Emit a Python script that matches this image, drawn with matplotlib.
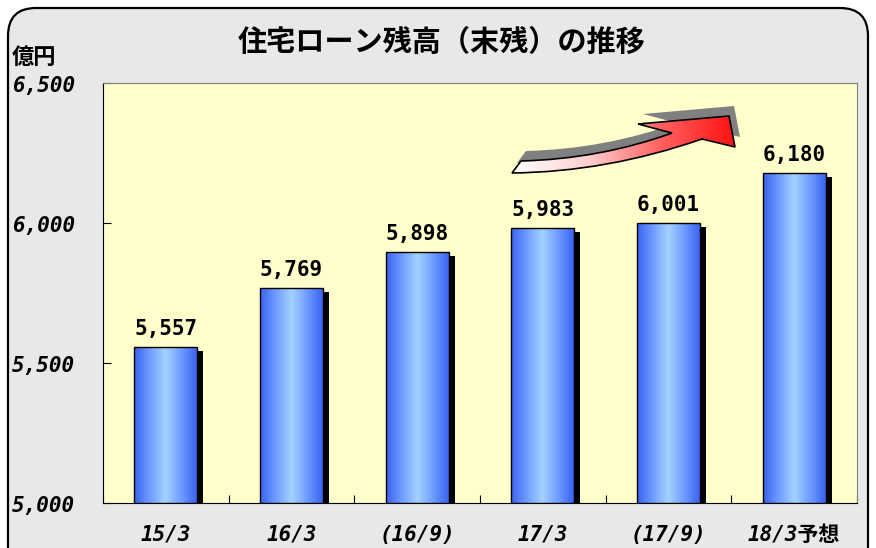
import numpy as np
import matplotlib
matplotlib.use("Agg")
import matplotlib.pyplot as plt
from matplotlib.patches import FancyBboxPatch, Rectangle, PathPatch
from matplotlib.path import Path
from matplotlib.colors import LinearSegmentedColormap
import matplotlib.transforms as mtransforms

plt.rcParams['font.family'] = ['DejaVu Sans Mono', 'Noto Sans CJK JP']

# data
categories = ["15/3", "16/3", "(16/9)", "17/3", "(17/9)", "18/3予想"]
balances = [5557, 5769, 5898, 5983, 6001, 6180]
yticks = [5000, 5500, 6000, 6500]
title = "住宅ローン残高（末残）の推移"
unit = "億円"

W, H = 876, 548
fig = plt.figure(figsize=(W / 100, H / 100), dpi=100, facecolor="white")

# background panel with rounded corners
bg = fig.add_axes([0, 0, 1, 1], zorder=0)
bg.set_xlim(0, W); bg.set_ylim(H, 0); bg.axis("off")
bg.add_patch(FancyBboxPatch((8, 8), W - 16, H + 20, boxstyle="round,pad=0,rounding_size=28",
                            facecolor="#e8e8e8", edgecolor="black", linewidth=1.6))

ax = fig.add_axes([103 / W, 45 / H, 754 / W, 420 / H], zorder=1)
ax.set_facecolor("#ffffcc")

x = np.arange(len(categories))
bw = 0.5
cmap = LinearSegmentedColormap.from_list("bar", ["#3a62f2", "#6f9cff", "#a6d2ff", "#6f9cff", "#3a62f2"])
grad = np.linspace(0, 1, 256).reshape(1, -1)

shadow_tr = ax.transData + mtransforms.ScaledTranslation(6 / 100, -4 / 100, fig.dpi_scale_trans)
for xi, v in zip(x, balances):
    ax.add_patch(Rectangle((xi - bw / 2, 5000), bw, v - 5000, facecolor="black",
                           edgecolor="none", transform=shadow_tr, zorder=2))
    im = ax.imshow(grad, cmap=cmap, aspect="auto", extent=(xi - bw / 2, xi + bw / 2, 5000, v),
                   zorder=3, interpolation="bilinear")
    rect = Rectangle((xi - bw / 2, 5000), bw, v - 5000, facecolor="none",
                     edgecolor="black", linewidth=1.0, zorder=4)
    ax.add_patch(rect)
    im.set_clip_path(rect)
    ax.annotate(f"{v:,}", (xi, v), xytext=(0, 18), textcoords="offset pixels",
                ha="center", va="center", fontsize=15, fontweight="bold", zorder=5)

ax.set_xlim(-0.5, len(categories) - 0.5)
ax.set_ylim(5000, 6500)

ax.set_yticks(yticks)
ax.set_yticklabels([])
ax.set_xticks(np.arange(len(categories) + 1) - 0.5)
ax.set_xticklabels([])
ax.tick_params(direction="in", length=6, width=0.8, color="black")

for s in ["top", "right"]:
    ax.spines[s].set_color("#808080")
for s in ["left", "bottom"]:
    ax.spines[s].set_color("black")

ylab_tr = mtransforms.blended_transform_factory(fig.transFigure, ax.transData)
for t in yticks:
    ax.annotate(f"{t:,}", (12 / W, t), xycoords=ylab_tr, xytext=(0, -3), textcoords="offset pixels",
                ha="left", va="center", fontsize=15, fontweight="bold", style="italic",
                annotation_clip=False)

xlab_tr = mtransforms.blended_transform_factory(ax.transData, fig.transFigure)
for xi, c in zip(x, categories):
    ax.text(xi, 1 - 535 / H, c, transform=xlab_tr, ha="center", va="center",
            fontsize=15, fontweight="bold", style="italic", clip_on=False)

fig.text(12 / W, 1 - 57 / H, unit, fontsize=16, fontweight="bold",
         family=["Noto Sans CJK JP"], va="center", ha="left")
fig.text(441 / W, 1 - 42 / H, title, fontsize=21, fontweight="bold",
         family=["Noto Sans CJK JP"], va="center", ha="center")

# decorative rising arrow
ov = fig.add_axes([0, 0, 1, 1], zorder=3)
ov.set_xlim(0, W); ov.set_ylim(H, 0); ov.axis("off")

def arrow_path(dx, dy):
    pts = [(512, 173), (521, 161), (600, 159), (672, 133), (638, 124), (729, 116),
           (735, 147), (702, 139), (607, 172), (512, 173), (512, 173)]
    codes = [Path.MOVETO, Path.LINETO, Path.CURVE3, Path.CURVE3, Path.LINETO, Path.LINETO,
             Path.LINETO, Path.LINETO, Path.CURVE3, Path.CURVE3, Path.CLOSEPOLY]
    return Path([(px + dx, py + dy) for px, py in pts], codes)

ov.add_patch(PathPatch(arrow_path(5, -10), facecolor="#808080", edgecolor="none", zorder=1))
red = LinearSegmentedColormap.from_list("arr", ["#ffffff", "#ffd0d0", "#ff6060", "#ff1010"])
arr = PathPatch(arrow_path(0, 0), facecolor="none", edgecolor="black", linewidth=1.2, zorder=3)
ov.add_patch(arr)
gim = ov.imshow(grad, cmap=red, aspect="auto", extent=(512, 736, 175, 114),
                interpolation="bilinear", zorder=2)
gim.set_clip_path(arr)
ov.set_xlim(0, W); ov.set_ylim(H, 0)

fig.savefig("out.png", dpi=100, facecolor="white")
